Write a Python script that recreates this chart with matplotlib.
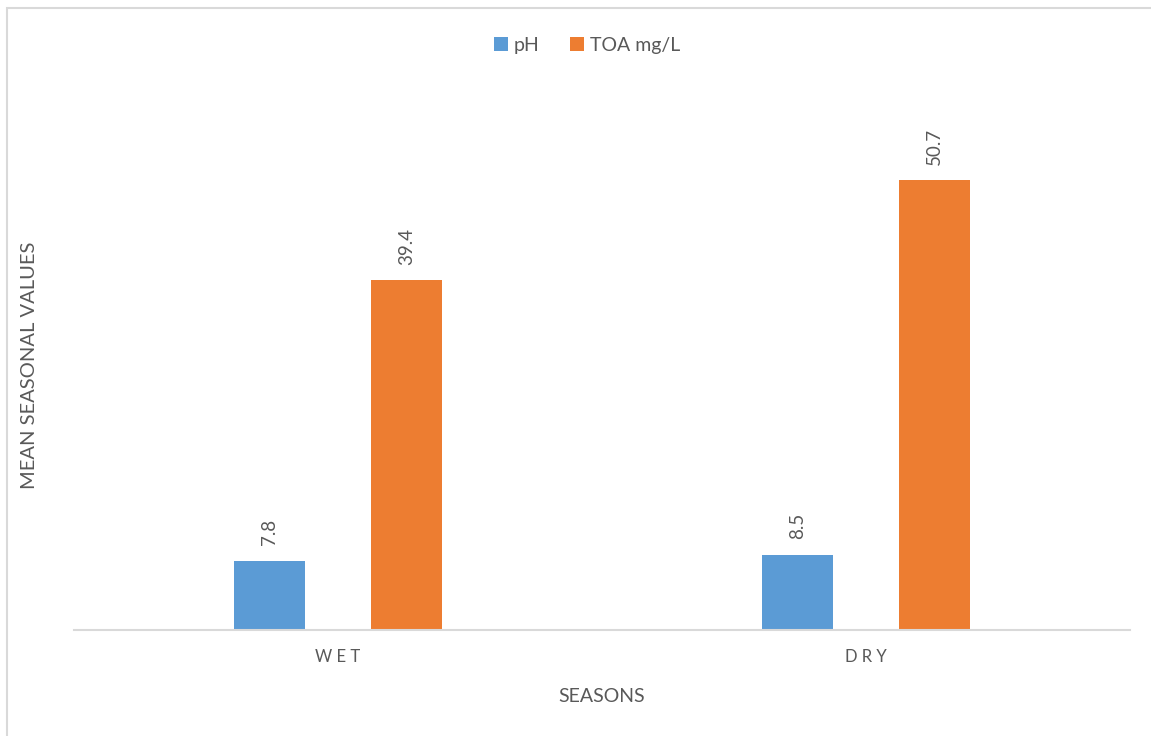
import numpy as np
import matplotlib
matplotlib.use("Agg")
import matplotlib.pyplot as plt
from matplotlib.patches import Rectangle

# Mean seasonal values
seasons = ["WET", "DRY"]
ph_values = [7.8, 8.5]
toa_values = [39.4, 50.7]
series_names = ["pH", "TOA mg/L"]

plt.rcParams['font.family'] = ['Lato', 'DejaVu Sans']
text_grey = '#595959'
blue = '#5B9BD5'
orange = '#ED7D31'

fig = plt.figure(figsize=(11.51, 7.36), dpi=100)
W, H = 1151, 736

# outer chart border (top and left edges visible)
fig.patches.append(Rectangle((6.5 / W, -0.1), 1.2, (736 - 7.5) / H + 0.1, transform=fig.transFigure,
                             fill=False, edgecolor='#D9D9D9', linewidth=1.5))

ax = fig.add_axes([74 / W, (H - 630) / H, (1130 - 74) / W, 560 / H])

x = np.arange(len(seasons))
width = 0.135
offset = 0.13

bars1 = ax.bar(x - offset, ph_values, width, color=blue, label=series_names[0])
bars2 = ax.bar(x + offset, toa_values, width, color=orange, label=series_names[1])

ax.set_xlim(-0.5, 1.5)
ax.set_ylim(0, 560 / 8.876)

# value labels, rotated
for bars, vals in [(bars1, ph_values), (bars2, toa_values)]:
    for b, v in zip(bars, vals):
        ax.annotate(f"{v:.1f}", (b.get_x() + b.get_width() / 2, v),
                    xytext=(0, 11), textcoords='offset points',
                    ha='center', va='bottom', rotation=90,
                    fontsize=13.5, color=text_grey)

for s in ['top', 'right', 'left']:
    ax.spines[s].set_visible(False)
ax.spines['bottom'].set_color('#D9D9D9')
ax.spines['bottom'].set_linewidth(1.5)
ax.set_yticks([])
ax.set_xticks(x)
ax.set_xticklabels([" ".join(s) for s in seasons], fontsize=12, color=text_grey)
ax.tick_params(axis='x', length=0, pad=14)

ax.set_xlabel("SEASONS", fontsize=14, color=text_grey, labelpad=16)
fig.text(30 / W, 1 - 365 / H, "MEAN SEASONAL VALUES", rotation=90,
         ha='center', va='center', fontsize=14.5, color=text_grey)

leg = fig.legend(loc='center', bbox_to_anchor=(587 / W, 1 - 45 / H), ncol=2,
                 frameon=False, fontsize=14, handlelength=0.7, handleheight=0.7,
                 handletextpad=0.3, columnspacing=1.6)
for t in leg.get_texts():
    t.set_color(text_grey)

fig.savefig("out.png", dpi=100)
